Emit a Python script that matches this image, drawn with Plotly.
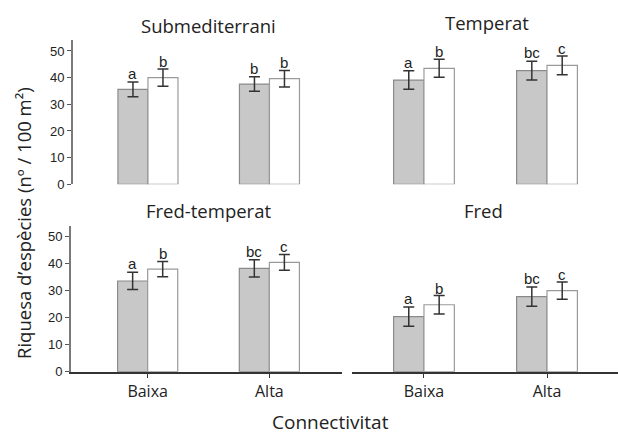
import plotly.graph_objects as go

categories = ["Baixa", "Alta"]
panels = ["Submediterrani", "Temperat", "Fred-temperat", "Fred"]
gray_vals = [[35.6, 37.6], [39.1, 42.6], [33.6, 38.3], [20.4, 27.8]]
gray_err = [[2.8, 2.7], [3.5, 3.5], [3.2, 3.2], [3.6, 3.6]]
white_vals = [[40.0, 39.6], [43.5, 44.6], [38.0, 40.5], [24.8, 30.0]]
white_err = [[3.2, 3.1], [3.4, 3.5], [2.85, 2.95], [3.4, 3.2]]
gray_letters = [["a", "b"], ["a", "bc"], ["a", "bc"], ["a", "bc"]]
white_letters = [["b", "b"], ["b", "c"], ["b", "c"], ["b", "c"]]
y_ticks = [0, 10, 20, 30, 40, 50]

W, H = 618, 435
fig = go.Figure()

# pixel layout: (x0, x1, y_bottom_px, y_top_px, xrange)
layouts = [
    (73, 342, 184.3, 40.3, [-0.617, 1.597]),
    (352, 618, 184.3, 40.3, [-0.585, 1.577]),
    (71, 342, 371.7, 225.9, [-0.63, 1.597]),
    (352, 618, 371.7, 225.9, [-0.585, 1.577]),
]
bw = 0.247
xpos = [0, 1]
letter_font = dict(family="Liberation Sans, Arial", size=15, color="#222")

for i, (x0, x1, yb, yt, xr) in enumerate(layouts):
    n = i + 1
    xa = "x" if n == 1 else f"x{n}"
    ya = "y" if n == 1 else f"y{n}"
    fig.add_trace(go.Bar(
        x=xpos, y=gray_vals[i], width=bw, offset=-bw,
        marker=dict(color="#c8c8c8", line=dict(color="#8a8a8a", width=1.2)),
        error_y=dict(type="data", array=gray_err[i], color="#333333", thickness=1.5, width=5.5),
        xaxis=xa, yaxis=ya, showlegend=False, hoverinfo="skip"))
    fig.add_trace(go.Bar(
        x=xpos, y=white_vals[i], width=bw, offset=0,
        marker=dict(color="#ffffff", line=dict(color="#9a9a9a", width=1.2)),
        error_y=dict(type="data", array=white_err[i], color="#333333", thickness=1.5, width=5.5),
        xaxis=xa, yaxis=ya, showlegend=False, hoverinfo="skip"))
    for j in range(2):
        fig.add_annotation(x=xpos[j] - bw / 2, y=gray_vals[i][j] + gray_err[i][j],
                           text=gray_letters[i][j], showarrow=False, xref=xa, yref=ya,
                           yanchor="bottom", yshift=-2, font=letter_font)
        fig.add_annotation(x=xpos[j] + bw / 2, y=white_vals[i][j] + white_err[i][j],
                           text=white_letters[i][j], showarrow=False, xref=xa, yref=ya,
                           yanchor="bottom", yshift=-3, font=letter_font)
    bottom = i >= 2
    left = i % 2 == 0
    xkey = "xaxis" if n == 1 else f"xaxis{n}"
    ykey = "yaxis" if n == 1 else f"yaxis{n}"
    fig.layout[xkey] = dict(
        domain=[x0 / W, x1 / W], range=xr, anchor=ya, automargin=False,
        tickvals=xpos, ticktext=categories if bottom else ["", ""],
        showticklabels=bottom, showline=bottom, linecolor="#333333", linewidth=2,
        ticks="outside" if bottom else "", ticklen=4, tickcolor="#333333", tickwidth=1,
        showgrid=False, zeroline=False,
        tickfont=dict(family="Open Sans", size=16, color="#222"))
    fig.layout[ykey] = dict(
        domain=[1 - yb / H, 1 - yt / H], range=[0, 54], anchor=xa, automargin=False,
        tickvals=y_ticks if left else [], showticklabels=left,
        showline=left, linecolor="#7a7a7a", linewidth=2,
        ticks="outside" if left else "", ticklen=4, tickcolor="#555", tickwidth=1,
        showgrid=False, zeroline=False,
        tickfont=dict(family="Liberation Sans, Arial", size=13, color="#222"))

titles = [(208, 25), (487, 23), (208, 210), (483, 210)]
for name, (cx, cy) in zip(panels, titles):
    fig.add_annotation(x=cx / W, y=1 - cy / H, xref="paper", yref="paper", text=name,
                       showarrow=False, xanchor="center", yanchor="middle",
                       font=dict(family="Open Sans", size=18.5, color="#222"))

fig.add_annotation(x=330 / W, y=1 - 422 / H, xref="paper", yref="paper", text="Connectivitat",
                   showarrow=False, xanchor="center", yanchor="middle",
                   font=dict(family="Open Sans", size=19, color="#222"))
fig.add_annotation(x=24 / W, y=1 - 223 / H, xref="paper", yref="paper",
                   text="Riquesa d\u2019esp\u00e8cies (n\u00ba / 100 m\u00b2)", textangle=-90,
                   showarrow=False, xanchor="center", yanchor="middle",
                   font=dict(family="Open Sans", size=18.5, color="#222"))

fig.update_layout(width=W, height=H, margin=dict(l=0, r=0, t=0, b=0, autoexpand=False),
                  paper_bgcolor="white", plot_bgcolor="white", barmode="overlay",
                  hovermode=False)
fig.write_html("out.html", config={"displayModeBar": False},
               post_script="document.body.style.margin='0';")
